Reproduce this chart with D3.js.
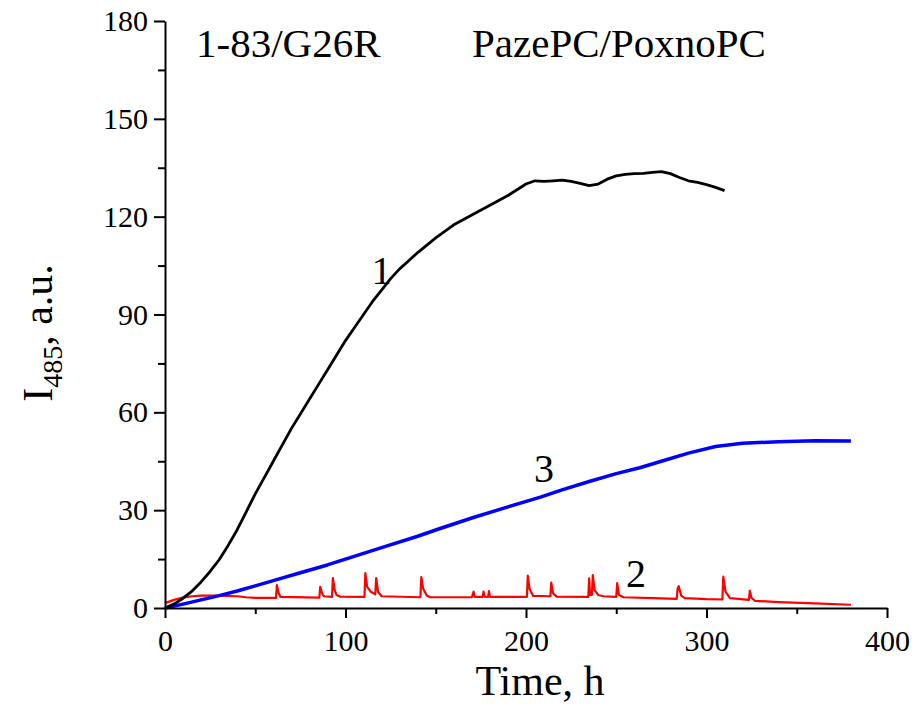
<!DOCTYPE html>
<html>
<head>
<meta charset="utf-8">
<script src="https://cdn.jsdelivr.net/npm/d3@7"></script>
<style>
  html, body { margin: 0; padding: 0; background: #fff; }
  svg { display: block; }
  svg text { font-family: 'Liberation Serif', 'DejaVu Serif', serif !important; fill: #000; }
</style>
</head>
<body>
<svg id="chart" width="917" height="724"></svg>
<script>
// ---- data ----
const xTicks = [0, 100, 200, 300, 400];
const xMinorTicks = [50, 150, 250, 350];
const yTicks = [0, 30, 60, 90, 120, 150, 180];
const yMinorTicks = [15, 45, 75, 105, 135, 165];

// curve 1 (black)
const curve1T = [0,5,10,15,20,25,30,35,40,45,50,55,60,65,70,75,80,85,90,95,100,105,110,115,120,125,130,135,140,150,160,170,180,190,200,205,210,215,220,225,230,235,240,245,250,255,260,265,270,275,280,285,290,295,300,305,310];
const curve1V = [0,1.2,3,5.2,8,11.2,14.8,19.2,24,29.5,35,40,45,50,55,59.5,64,68.5,73,77.5,82,86,90,94,97.5,101,104,106.5,109,113.5,117.5,120.5,123.5,126.5,130,131,130.8,131,131.2,130.8,130.2,129.5,130,131.5,132.5,133,133.2,133.3,133.6,133.8,133.2,132,131,130.5,129.8,129,128];

// curve 2 (red)
const curve2T = [0,5,10,15,20,30,40,45,50,61.5,62,63,64,85.5,86,87,88,92.5,93,94,95,97,110.5,111,112,114,116.5,117,118,120,141.5,142,143,145,147,170,171,171.5,176,176.5,177,179,179.5,180,200.5,201,202,204,213.5,214,215,217,234.5,235,235.5,236.5,237,238,240,243,250,250.5,251.5,254,270,283.5,284,284.6,286,288,300,308.8,309.3,310.5,313,323.5,324,325,327,340,360,380];
const curve2V = [1.5,2.5,3.2,3.6,3.8,3.8,3.6,3.3,3.1,3.1,7.0,4.5,3.4,3.2,6.5,4.5,3.6,3.4,9.2,5.5,4,3.5,3.4,10.7,6.5,5,4.2,9.2,5,3.6,3.3,9.5,6,3.8,3.3,3.3,5,3.4,3.4,5,3.5,3.4,5.2,3.4,3.4,9.9,5.8,3.7,3.6,7.8,4.5,3.5,3.4,9.1,4,4,10.1,5.5,4,3.6,3.4,7.6,4,3.3,3.0,2.8,6,6.7,3.8,3,2.7,2.6,9.6,5,3,2.5,5.3,3,2.2,1.8,1.4,1.0];

// curve 3 (blue)
const curve3T = [0,10,20,30,40,50,60,75,90,100,120,140,152,170,190,208,220,235,250,263,275,290,305,320,340,360,380];
const curve3V = [0,1.2,2.5,3.8,5.2,6.8,8.4,10.8,13.2,15,18.5,22,24.3,27.6,31,34,36.2,38.8,41.2,43,45,47.5,49.5,50.5,51,51.3,51.2];

const curveLabels = ["1", "2", "3"];
const curveLabelT = [120, 261, 210];
const curveLabelV = [99.5, 6.3, 38.5];

// ---- layout ----
const FONT = "'Liberation Serif', 'DejaVu Serif', serif";
const svg = d3.select("#chart");
const x = d3.scaleLinear().domain([0, 400]).range([165, 887]);
const y = d3.scaleLinear().domain([0, 180]).range([608, 21]);

const zip = (ts, vs) => ts.map((t, i) => [t, vs[i]]);
const line = d3.line().x(d => x(d[0])).y(d => y(d[1]));

svg.append("path").datum(zip(curve2T, curve2V))
  .attr("fill", "none").attr("stroke", "#ff0000").attr("stroke-width", 2.2)
  .attr("stroke-linejoin", "round").attr("d", line);
svg.append("path").datum(zip(curve3T, curve3V))
  .attr("fill", "none").attr("stroke", "#0000ff").attr("stroke-width", 3.5)
  .attr("stroke-linejoin", "round").attr("d", line);
svg.append("path").datum(zip(curve1T, curve1V))
  .attr("fill", "none").attr("stroke", "#000000").attr("stroke-width", 2.8)
  .attr("stroke-linejoin", "round").attr("d", line);

// axes
function styleAxis(g) {
  g.attr("font-family", FONT);
  g.selectAll("path.domain").attr("stroke", "#000").attr("stroke-width", 2);
  g.selectAll(".tick line").attr("stroke", "#000").attr("stroke-width", 2);
  g.selectAll(".tick text").style("font-family", FONT).attr("font-size", 30).attr("fill", "#000");
}

const gx = svg.append("g").attr("transform", "translate(0,608)")
  .call(d3.axisBottom(x).tickValues(xTicks).tickSize(10).tickSizeOuter(0).tickPadding(12).tickFormat(d3.format("d")));
styleAxis(gx);
const gxm = svg.append("g").attr("transform", "translate(0,608)")
  .call(d3.axisBottom(x).tickValues(xMinorTicks).tickSize(6).tickFormat(""));
styleAxis(gxm); gxm.select("path.domain").remove();

const gy = svg.append("g").attr("transform", "translate(165,0)")
  .call(d3.axisLeft(y).tickValues(yTicks).tickSize(11).tickSizeOuter(0).tickPadding(6).tickFormat(d3.format("d")));
styleAxis(gy);
const gym = svg.append("g").attr("transform", "translate(165,0)")
  .call(d3.axisLeft(y).tickValues(yMinorTicks).tickSize(7).tickFormat(""));
styleAxis(gym); gym.select("path.domain").remove();

// curve labels
svg.selectAll("text.clab").data(curveLabels).enter().append("text")
  .attr("class", "clab")
  .style("font-family", FONT)
  .attr("x", (d, i) => x(curveLabelT[i]))
  .attr("y", (d, i) => y(curveLabelV[i]))
  .attr("text-anchor", "middle")
  .attr("font-size", 40)
  .text(d => d);

// titles
svg.append("text").style("font-family", FONT).attr("x", 196).attr("y", 57).attr("font-size", 41).text("1-83/G26R");
svg.append("text").style("font-family", FONT).attr("x", 472).attr("y", 57).attr("font-size", 41).text("PazePC/PoxnoPC");

// axis titles
svg.append("text").style("font-family", FONT).attr("x", 540).attr("y", 695).attr("text-anchor", "middle")
  .attr("font-size", 42).text("Time, h");

const yl = svg.append("text").style("font-family", FONT).attr("transform", "translate(52,333) rotate(-90)")
  .attr("text-anchor", "middle").attr("font-size", 42);
yl.append("tspan").text("I");
yl.append("tspan").attr("font-size", 28).attr("dy", 10).text("485");
yl.append("tspan").attr("dy", -10).text(", a.u.");
</script>
</body>
</html>
